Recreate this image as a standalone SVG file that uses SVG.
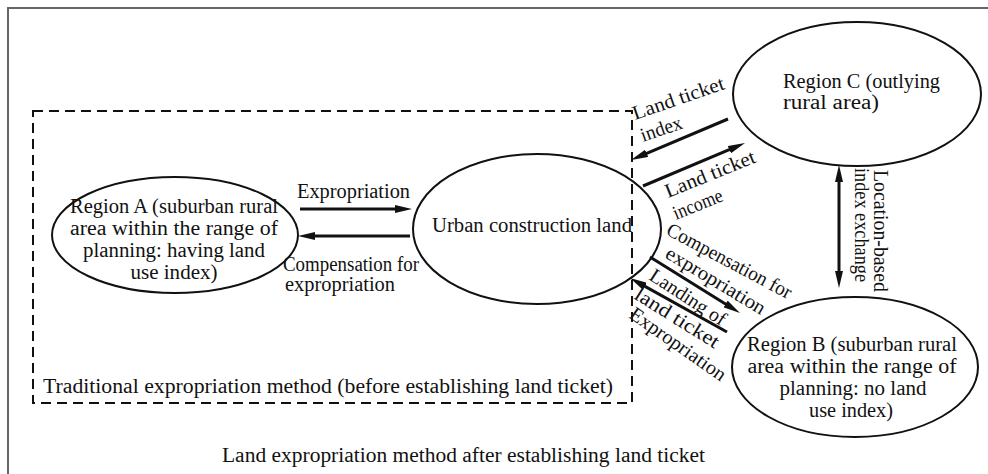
<svg xmlns="http://www.w3.org/2000/svg" width="988" height="474" viewBox="0 0 988 474">
<style>
text{font-family:"Liberation Serif","DejaVu Serif",serif;font-size:20px;fill:#111}
.nd{fill:none;stroke:#111;stroke-width:2}
.ar{stroke:#111;stroke-width:3;fill:none;marker-end:url(#ah)}
.m{text-anchor:middle}
</style>
<defs>
<marker id="ah" viewBox="0 0 17 8" refX="7" refY="4" markerWidth="17" markerHeight="8" markerUnits="userSpaceOnUse" orient="auto-start-reverse">
<path d="M0,0 L17,4 L0,8 z" fill="#111"/>
</marker>
</defs>
<rect width="988" height="474" fill="#fff"/>
<path d="M8,474 V8 H988" fill="none" stroke="#666" stroke-width="2"/>
<g id="traditional-frame">
<rect x="33" y="111" width="599" height="292" fill="none" stroke="#111" stroke-width="2" stroke-dasharray="10 6"/>
<text x="43" y="393" textLength="570" lengthAdjust="spacingAndGlyphs">Traditional expropriation method (before establishing land ticket)</text>
</g>
<g id="region-a">
<ellipse class="nd" cx="175" cy="235" rx="123" ry="58"/>
<text class="m" x="174" y="213" textLength="208" lengthAdjust="spacingAndGlyphs">Region A (suburban rural</text>
<text class="m" x="174" y="235" textLength="208" lengthAdjust="spacingAndGlyphs">area within the range of</text>
<text class="m" x="174" y="257" textLength="182" lengthAdjust="spacingAndGlyphs">planning: having land</text>
<text class="m" x="174" y="279" textLength="87" lengthAdjust="spacingAndGlyphs">use index)</text>
</g>
<g id="urban">
<ellipse class="nd" cx="537" cy="229" rx="124" ry="75"/>
<text x="432" y="232" textLength="200" lengthAdjust="spacingAndGlyphs">Urban construction land</text>
</g>
<g id="region-c">
<ellipse class="nd" cx="857" cy="94" rx="124" ry="72"/>
<text x="783" y="88" textLength="157" lengthAdjust="spacingAndGlyphs">Region C (outlying</text>
<text x="783" y="109" textLength="96" lengthAdjust="spacingAndGlyphs">rural area)</text>
</g>
<g id="region-b">
<ellipse class="nd" cx="855" cy="367" rx="123" ry="70"/>
<text class="m" x="852" y="351" textLength="210" lengthAdjust="spacingAndGlyphs">Region B (suburban rural</text>
<text class="m" x="852" y="373" textLength="209" lengthAdjust="spacingAndGlyphs">area within the range of</text>
<text class="m" x="853" y="395" textLength="147" lengthAdjust="spacingAndGlyphs">planning: no land</text>
<text class="m" x="851" y="417" textLength="84" lengthAdjust="spacingAndGlyphs">use index)</text>
</g>
<g id="connectors">
<line class="ar" x1="300" y1="209" x2="402" y2="209"/>
<line class="ar" x1="410" y1="236" x2="308" y2="236"/>
<line class="ar" x1="728" y1="119" x2="640.2" y2="156.1"/>
<line class="ar" x1="643" y1="186" x2="735.8" y2="146.9"/>
<line class="ar" x1="650" y1="257" x2="731.5" y2="307.7"/>
<line class="ar" x1="727" y1="332" x2="638.7" y2="282.9"/>
<line class="ar" x1="839" y1="175" x2="839" y2="278" style="marker-start:url(#ah)"/>
</g>
<g id="labels">
<text x="297" y="198" textLength="113" lengthAdjust="spacingAndGlyphs">Expropriation</text>
<text x="283" y="271" textLength="136" lengthAdjust="spacingAndGlyphs">Compensation for</text>
<text x="285" y="291" textLength="110" lengthAdjust="spacingAndGlyphs">expropriation</text>
<text transform="translate(635,120) rotate(-19)" textLength="96" lengthAdjust="spacingAndGlyphs">Land ticket</text>
<text transform="translate(643,142) rotate(-19)" textLength="43" lengthAdjust="spacingAndGlyphs">index</text>
<text transform="translate(668,198) rotate(-22)" textLength="96" lengthAdjust="spacingAndGlyphs">Land ticket</text>
<text transform="translate(676,220) rotate(-22)" textLength="52" lengthAdjust="spacingAndGlyphs">income</text>
<text transform="translate(665,234) rotate(28)" textLength="139" lengthAdjust="spacingAndGlyphs">Compensation for</text>
<text transform="translate(664,257) rotate(31)" textLength="113" lengthAdjust="spacingAndGlyphs">expropriation</text>
<text transform="translate(648,279) rotate(33)" textLength="87" lengthAdjust="spacingAndGlyphs">Landing of</text>
<text transform="translate(633,298) rotate(32)" textLength="96" lengthAdjust="spacingAndGlyphs">land ticket</text>
<text transform="translate(628,317) rotate(35)" textLength="113" lengthAdjust="spacingAndGlyphs">Expropriation</text>
<text transform="translate(874,170) rotate(90)" textLength="122" lengthAdjust="spacingAndGlyphs">Location-based</text>
<text transform="translate(855,168) rotate(90)" textLength="114" lengthAdjust="spacingAndGlyphs">index exchange</text>
</g>
<text x="222" y="462" textLength="483" lengthAdjust="spacingAndGlyphs">Land expropriation method after establishing land ticket</text>
</svg>
